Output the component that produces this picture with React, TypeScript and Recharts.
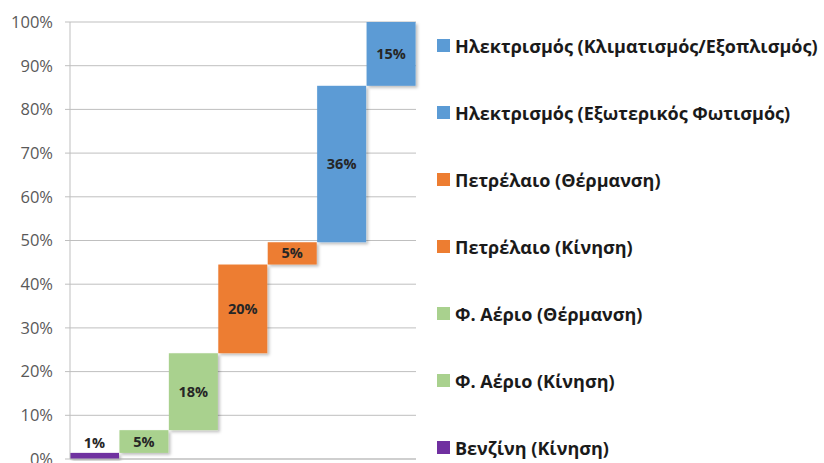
import React from 'react';
import { BarChart, Bar, XAxis, YAxis, CartesianGrid, Cell, LabelList, Legend } from 'recharts';

const categories = [
  'Βενζίνη (Κίνηση)',
  'Φ. Αέριο (Κίνηση)',
  'Φ. Αέριο (Θέρμανση)',
  'Πετρέλαιο (Κίνηση)',
  'Πετρέλαιο (Θέρμανση)',
  'Ηλεκτρισμός (Εξωτερικός Φωτισμός)',
  'Ηλεκτρισμός (Κλιματισμός/Εξοπλισμός)',
];
const shares = [1.4, 5.2, 17.6, 20.3, 5.1, 35.8, 14.6];
const colors = ['#7030A0', '#A9D18E', '#A9D18E', '#ED7D31', '#ED7D31', '#5B9BD5', '#5B9BD5'];
const yTicks = [0, 10, 20, 30, 40, 50, 60, 70, 80, 90, 100];

const data = (() => {
  let acc = 0;
  return categories.map((name, i) => {
    const row = { name, base: acc, value: shares[i], color: colors[i] };
    acc += shares[i];
    return row;
  });
})();

const FONT = '"Open Sans", "Noto Sans", sans-serif';

const ShadowBar = (props: any) => {
  const { x, y, width, height, fill, index } = props;
  if (!height || height <= 0) return null;
  const id = `sh${index}`;
  return (
    <g>
      <defs>
        <filter id={id} x="-20%" y="-20%" width="150%" height="150%">
          <feDropShadow dx="2" dy="2" stdDeviation="1.5" floodColor="#000" floodOpacity="0.25" />
        </filter>
      </defs>
      <rect x={x} y={y} width={width} height={height} fill={fill} filter={`url(#${id})`} />
    </g>
  );
};

const BarLabel = (props: any) => {
  const { x, y, width, height, value } = props;
  const small = value < 3;
  const ty = small ? y - 5 : y + height / 2 + 5;
  return (
    <text
      x={x + width / 2}
      y={ty}
      textAnchor="middle"
      fontFamily={FONT}
      fontWeight={700}
      fontSize={14.5}
      fill="#262626"
    >
      {`${Math.round(value)}%`}
    </text>
  );
};

const LegendContent = () => {
  const items = categories.map((c, i) => ({ c, color: colors[i] })).reverse();
  return (
    <div style={{ fontFamily: FONT }}>
      {items.map((it) => (
        <div
          key={it.c}
          style={{ height: 67, display: 'flex', alignItems: 'center', whiteSpace: 'nowrap' }}
        >
          <span
            style={{ display: 'inline-block', width: 13, height: 13, background: it.color, marginRight: 5, flexShrink: 0 }}
          />
          <span style={{ fontSize: 18, fontWeight: 700, color: '#1a1a1a' }}>{it.c}</span>
        </div>
      ))}
    </div>
  );
};

export default function App() {
  return (
    <div style={{ position: 'absolute', left: 0, top: 0, width: 824, height: 463, background: '#fff', overflow: 'hidden' }}>
      <BarChart
        width={824}
        height={463}
        data={data}
        margin={{ top: 22, right: 408, bottom: 3, left: 0 }}
        barCategoryGap={0}
        barGap={0}
      >
        <CartesianGrid vertical={false} stroke="#BFBFBF" />
        <XAxis dataKey="name" tick={false} tickLine={false} axisLine={{ stroke: '#BFBFBF' }} height={1} />
        <YAxis
          width={70}
          domain={[0, 100]}
          ticks={yTicks}
          interval={0}
          tickFormatter={(v: number) => `${v}%`}
          tick={{ fontSize: 16.5, fill: '#595959', fontFamily: FONT }}
          tickLine={{ stroke: '#BFBFBF' }}
          tickSize={5}
          tickMargin={12}
          axisLine={{ stroke: '#BFBFBF' }}
        />
        <Legend
          layout="vertical"
          align="center"
          verticalAlign="middle"
          content={<LegendContent />}
          wrapperStyle={{ position: 'absolute', left: 437, top: 12, width: 387 }}
        />
        <Bar dataKey="base" stackId="a" fill="transparent" isAnimationActive={false} legendType="none" />
        <Bar dataKey="value" stackId="a" isAnimationActive={false} shape={<ShadowBar />}>
          {data.map((d) => (
            <Cell key={d.name} fill={d.color} />
          ))}
          <LabelList dataKey="value" content={<BarLabel />} />
        </Bar>
      </BarChart>
    </div>
  );
}
